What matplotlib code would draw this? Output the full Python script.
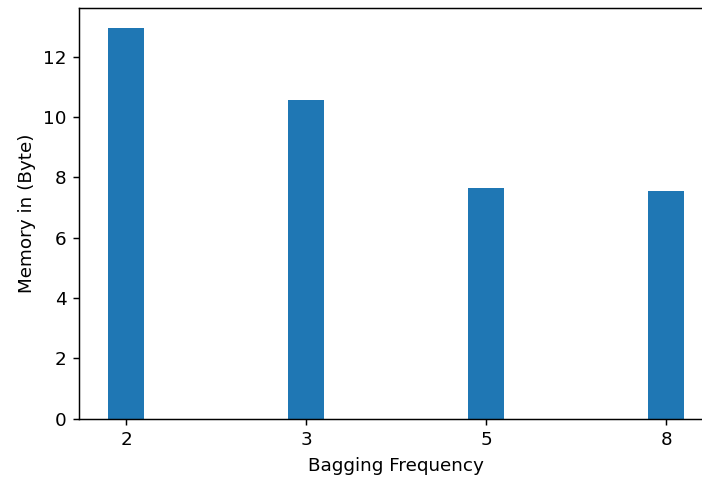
import numpy as np
from matplotlib import pyplot as plt

# memory usage per bagging frequency setting
freq_labels = ["2", "3", "5", "8"]
memory_bytes = [12.97, 10.56, 7.64, 7.55]

DPI = 132

fig = plt.figure(figsize=(702 / DPI, 480 / DPI), dpi=DPI)
ax = fig.add_axes([0.113, 0.128, 0.9026, 0.855])

x = np.arange(len(freq_labels))
ax.bar(x, memory_bytes, width=0.2, color="#1f77b4")
ax.set_xticks(x)
ax.set_xticklabels(freq_labels)
ax.set_xlabel("Bagging Frequency")
ax.set_ylabel("Memory in (Byte)")

fig.savefig("out.png", dpi=DPI)
